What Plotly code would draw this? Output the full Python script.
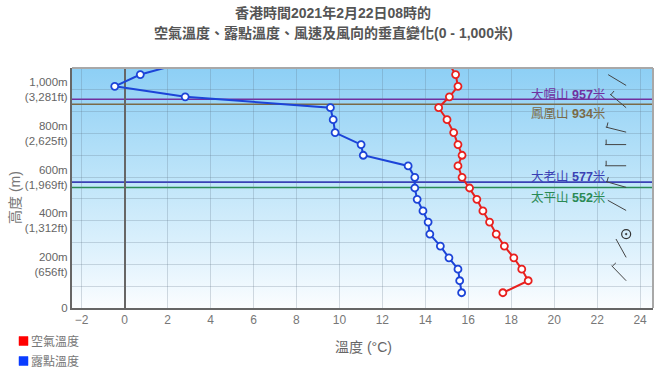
import math
import base64
import plotly.graph_objects as go

# ---------------- data ----------------
heights = [70, 125, 178, 230, 284, 339, 394, 445, 498, 550, 599, 651, 700, 749, 804, 863, 918, 968, 1016, 1070, 1120]
air_temp = [17.61, 18.79, 18.49, 18.12, 17.68, 17.30, 16.99, 16.68, 16.40, 16.06, 15.71, 15.52, 15.71, 15.52,
            15.32, 15.01, 14.62, 15.12, 15.52, 15.41, 15.10]
dew_point = [15.69, 15.60, 15.52, 15.10, 14.70, 14.21, 14.13, 13.89, 13.62, 13.51, 13.51, 13.20, 11.11, 11.01,
             9.80, 9.71, 9.58, 2.82, -0.46, 0.73, 2.59]

barb_heights = [125, 232, 339, 447, 553, 652, 749, 806, 918, 1020]
barb_dir = [316, 331, 0, 299, 286, 270, 270, 284, 310, 301]
barb_speed = [5, 3, 0, 3, 5, 5, 5, 5, 5, 3]

mountain_names = ["大帽山", "鳳凰山", "大老山", "太平山"]
mountain_heights = [957, 934, 577, 552]

x_ticks = list(range(-2, 25, 2))
y_tick_vals = list(range(0, 1001, 100))
y_tick_text = ["0", "", "200m<br>(656ft)", "", "400m<br>(1,312ft)", "", "600m<br>(1,969ft)", "",
               "800m<br>(2,625ft)", "", "1,000m<br>(3,281ft)"]

# ---------------- layout constants ----------------
W, H = 665, 372
ML, MR, MT, MB = 72, 12, 68, 64
PW, PH = W - ML - MR, H - MT - MB
XMIN, XMAX = -2.45, 24.6
YMIN, YMAX = 0, 1100
FONT = "Liberation Sans, Arial, Noto Sans CJK TC, sans-serif"

mountain_colors = ["#7030a0", "#7a6a48", "#3a40b4", "#2a8a55"]
mountain_shift = [5, -10, 5, -10]

def pxx(px):
    return (px - ML) / PW

def pxy(py):
    return (H - MB - py) / PH

fig = go.Figure()

# gradient background image
svg = ('<svg xmlns="http://www.w3.org/2000/svg" width="10" height="100" viewBox="0 0 10 100" '
       'preserveAspectRatio="none"><defs><linearGradient id="g" x1="0" y1="0" x2="0" y2="1">'
       '<stop offset="0" stop-color="#8dcff5"/><stop offset="0.45" stop-color="#bde4f9"/>'
       '<stop offset="0.8" stop-color="#e2f3fd"/><stop offset="1" stop-color="#fbfdff"/>'
       '</linearGradient></defs><rect width="10" height="100" fill="url(#g)"/></svg>')
src = "data:image/svg+xml;base64," + base64.b64encode(svg.encode()).decode()
fig.add_layout_image(dict(source=src, xref="paper", yref="paper", x=0, y=1, sizex=1, sizey=1,
                          xanchor="left", yanchor="top", sizing="stretch", layer="below"))

# temperature lines
fig.add_trace(go.Scatter(x=air_temp, y=heights, mode="lines+markers", name="空氣溫度",
                         line=dict(color="#e8201e", width=2),
                         marker=dict(symbol="circle", size=7, color="white",
                                     line=dict(color="#e8201e", width=1.8)),
                         showlegend=False))
fig.add_trace(go.Scatter(x=dew_point, y=heights, mode="lines+markers", name="露點溫度",
                         line=dict(color="#1c44d8", width=2),
                         marker=dict(symbol="circle", size=7, color="white",
                                     line=dict(color="#1c44d8", width=1.8)),
                         showlegend=False))

# wind barbs
BX = 23.35
sx = PW / (XMAX - XMIN)
sy = PH / (YMAX - YMIN)
STAFF = 21
TICK = 5
bx, by = [], []
calm_x, calm_y = [], []
for h, d, s in zip(barb_heights, barb_dir, barb_speed):
    if s == 0:
        calm_x.append(BX)
        calm_y.append(h)
        continue
    r = math.radians(d)
    ue, un = math.sin(r), math.cos(r)
    xe = BX + ue * STAFF / sx
    ye = h + un * STAFF / sy
    bx += [BX, xe, None]
    by += [h, ye, None]
    n_full = s // 10
    half = (s % 10) >= 5
    pos = STAFF - 1
    pe, pn = un, -ue
    for _ in range(n_full):
        x0 = BX + ue * pos / sx
        y0 = h + un * pos / sy
        bx += [x0, x0 + pe * 2 * TICK / sx, None]
        by += [y0, y0 + pn * 2 * TICK / sy, None]
        pos -= 4
    if half:
        x0 = BX + ue * pos / sx
        y0 = h + un * pos / sy
        bx += [x0, x0 + pe * TICK / sx, None]
        by += [y0, y0 + pn * TICK / sy, None]
fig.add_trace(go.Scatter(x=bx, y=by, mode="lines", line=dict(color="#444", width=1),
                         hoverinfo="skip", showlegend=False))
fig.add_trace(go.Scatter(x=calm_x, y=calm_y, mode="markers",
                         marker=dict(symbol="circle-open-dot", size=9, color="#333",
                                     line=dict(width=1.2)),
                         hoverinfo="skip", showlegend=False))

# mountain reference lines + labels
for name, mh, col, shift in zip(mountain_names, mountain_heights, mountain_colors, mountain_shift):
    fig.add_shape(type="line", xref="paper", x0=0, x1=1, y0=mh, y1=mh,
                  line=dict(color=col, width=1.6), layer="below")
    fig.add_annotation(x=22.44, y=mh, xref="x", yref="y", xanchor="right", yanchor="middle",
                       yshift=shift, showarrow=False,
                       text=f"{name} <b>{mh}</b>米",
                       font=dict(family=FONT, size=12.5, color=col))

# top & right border
fig.add_shape(type="line", xref="paper", yref="paper", x0=0, x1=1, y0=1, y1=1,
              line=dict(color="#a8a8a8", width=2))
fig.add_shape(type="line", xref="paper", yref="paper", x0=1, x1=1, y0=0, y1=1,
              line=dict(color="#a8a8a8", width=2))

# titles
fig.add_annotation(xref="paper", yref="paper", x=pxx(333), y=pxy(13), xanchor="center", yanchor="middle",
                   showarrow=False, text="<b>香港時間2021年2月22日08時的</b>",
                   font=dict(family=FONT, size=14, color="#555"))
fig.add_annotation(xref="paper", yref="paper", x=pxx(333), y=pxy(33), xanchor="center", yanchor="middle",
                   showarrow=False, text="<b>空氣溫度、露點溫度、風速及風向的垂直變化(0 - 1,000米)</b>",
                   font=dict(family=FONT, size=14, color="#555"))
fig.add_annotation(xref="paper", yref="paper", x=pxx(363), y=pxy(347), xanchor="center", yanchor="middle",
                   showarrow=False, text="溫度 (°C)", font=dict(family=FONT, size=14, color="#666"))
fig.add_annotation(xref="paper", yref="paper", x=pxx(15), y=pxy(197), xanchor="center", yanchor="middle",
                   showarrow=False, text="高度 (m)", textangle=-90,
                   font=dict(family=FONT, size=14, color="#777"))

# manual legend
legend_items = [("空氣溫度", "#ff0000", 341), ("露點溫度", "#0a3cff", 361)]
for label, col, cy in legend_items:
    fig.add_shape(type="rect", xref="paper", yref="paper", x0=pxx(19), x1=pxx(28),
                  y0=pxy(cy + 4.5), y1=pxy(cy - 4.5), fillcolor=col, line=dict(color=col, width=0.5))
    fig.add_annotation(xref="paper", yref="paper", x=pxx(29), y=pxy(cy), xanchor="left", yanchor="middle",
                       showarrow=False, text=label, font=dict(family=FONT, size=12, color="#777"))

fig.update_layout(
    width=W, height=H, autosize=False,
    margin=dict(l=ML, r=MR, t=MT, b=MB),
    paper_bgcolor="white", plot_bgcolor="white",
    font=dict(family=FONT, color="#666"),
    xaxis=dict(range=[XMIN, XMAX], tickvals=x_ticks, showgrid=True,
               gridcolor="rgba(90,110,130,0.25)", gridwidth=1,
               zeroline=True, zerolinecolor="#666", zerolinewidth=1.5,
               showline=True, linecolor="#666", linewidth=2,
               tickfont=dict(family=FONT, size=12, color="#777"), ticks="", fixedrange=True),
    yaxis=dict(range=[YMIN, YMAX], tickvals=y_tick_vals, ticktext=y_tick_text, showgrid=True,
               gridcolor="rgba(90,110,130,0.25)", gridwidth=1, zeroline=False,
               showline=True, linecolor="#666", linewidth=2,
               tickfont=dict(family=FONT, size=11.5, color="#666"), ticks="", fixedrange=True),
    showlegend=False,
)

# remove the default 8px page margin so the figure fills the window exactly
fig.write_html("out.html", config={"displayModeBar": False},
               post_script="document.body.style.margin='0';")
